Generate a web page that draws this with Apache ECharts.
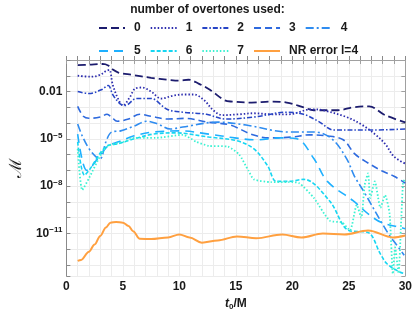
<!DOCTYPE html>
<html>
<head>
<meta charset="utf-8">
<script src="https://cdn.jsdelivr.net/npm/echarts@6/dist/echarts.min.js"></script>
<style>html,body{margin:0;padding:0;background:#fff}#c{width:415px;height:316px}</style>
</head>
<body>
<div id="c"></div>
<script>
// ---- data (t0/M, mismatch) ----
const seriesNames = ['0','1','2','3','4','5','6','7','NR error l=4'];

const t0 = [1.0, 2.0, 3.2, 3.7, 4.1, 4.6, 5.8, 7.5, 9.0, 10.0, 10.8, 11.7, 12.7, 14.0, 14.7, 16.4, 18.1, 19.5, 21.0, 21.9, 24.0, 25.4, 26.8, 28.2, 30.0];
const m0 = [0.47, 0.5, 0.56, 0.45, 0.25, 0.16, 0.115, 0.074, 0.056, 0.049, 0.056, 0.032, 0.013, 0.0028, 0.0023, 0.002, 0.0023, 0.002, 0.001, 6.5e-4, 6.5e-4, 1e-3, 1.15e-3, 3.2e-4, 1.1e-4];

const t1 = [1.0, 2.2, 3.0, 3.5, 3.8, 4.1, 4.6, 5.0, 5.6, 6.1, 6.7, 7.5, 8.4, 9.5, 10.5, 11.3, 12.2, 13.0, 13.8, 15.3, 16.6, 18.1, 19.7, 21.7, 22.7, 24.8, 26.2, 27.3, 28.2, 29.0, 30.0];
const m1 = [0.1, 0.087, 0.115, 0.2, 0.235, 0.027, 0.0032, 0.0013, 0.0042, 0.0155, 0.018, 0.01, 0.0036, 0.0056, 0.0065, 0.0065, 0.0028, 6.5e-4, 3.2e-4, 3.6e-4, 4.2e-4, 3.6e-4, 3.6e-4, 7.5e-4, 6.5e-4, 2.4e-4, 7.5e-5, 2e-5, 4.9e-6, 7.5e-7, 2.7e-7];

const t2 = [1.0, 2.0, 3.1, 3.7, 4.1, 4.7, 5.2, 6.2, 7.5, 8.9, 10.3, 12.4, 14.1, 16.6, 19.5, 21.0, 22.3, 23.7, 26.9, 30.0];
const m2 = [0.01, 0.0075, 0.013, 0.024, 0.0065, 0.0018, 0.0013, 0.0036, 0.0036, 7.5e-4, 4.9e-4, 3.6e-4, 1.8e-4, 2.4e-4, 4.9e-4, 3.6e-4, 1.3e-4, 3.6e-5, 3.6e-5, 4.2e-5];

const t3 = [1.0, 1.5, 2.0, 3.0, 3.6, 4.0, 4.5, 5.5, 6.5, 7.5, 9.0, 10.5, 12.5, 14.5, 16.5, 18.0, 20.0, 21.5, 23.0, 24.5, 25.5, 26.5, 28.0, 29.0, 30.0];
const m3 = [1.15e-3, 2.7e-4, 2e-4, 2.4e-4, 3.6e-4, 2.4e-4, 1.3e-4, 1.8e-4, 3.6e-4, 2.7e-4, 1.8e-4, 2e-4, 1.15e-4, 7.5e-5, 1.8e-5, 1.15e-5, 1.3e-5, 1.8e-5, 1.55e-5, 8.7e-6, 1.15e-6, 3.6e-7, 8.7e-8, 4.2e-8, 1.55e-8];

const t4 = [1.0, 1.4, 2.0, 2.6, 3.0, 3.5, 4.0, 4.8, 6.0, 7.1, 8.1, 9.2, 10.3, 13.4, 15.9, 19.7, 22.0, 23.5, 24.8, 25.5, 26.3, 27.8, 28.6, 29.2, 29.9];
const m4 = [8.7e-5, 1.55e-5, 2.4e-6, 7.5e-7, 5.6e-7, 6.5e-6, 2.7e-5, 3.2e-5, 6.5e-5, 1.3e-4, 8.7e-5, 4.2e-5, 5.6e-5, 1.15e-4, 7.5e-5, 2.7e-5, 2.7e-5, 1e-5, 5.6e-7, 4.2e-8, 4.9e-9, 6.5e-11, 7.5e-12, 2e-12, 4.2e-13];

const t5 = [1.0, 1.8, 2.3, 3.1, 3.7, 4.6, 6.0, 7.7, 10.0, 12.6, 14.9, 16.8, 18.9, 20.4, 21.9, 23.1, 25.4, 26.8, 27.9, 29.6, 30.0];
const m5 = [2e-5, 1e-7, 2e-7, 1.15e-6, 3.6e-6, 6.5e-6, 1.55e-5, 2.7e-5, 3.2e-5, 2e-5, 1.15e-5, 8.7e-6, 1.15e-5, 1e-5, 5.6e-7, 2e-8, 1.15e-9, 1.55e-10, 4.9e-11, 2.4e-11, 2e-11];

const t6 = [1.0, 1.6, 2.0, 3.5, 4.6, 6.0, 7.7, 9.6, 12.6, 15.1, 16.6, 17.8, 18.6, 19.7, 21.0, 23.3, 25.0, 26.7, 27.8, 28.4, 29.5, 30.0];
const m6 = [6.5e-6, 4.9e-8, 1e-7, 3.2e-6, 4.9e-6, 1e-5, 2e-5, 2.4e-5, 1.3e-5, 7.5e-6, 2.3e-6, 2e-7, 2e-8, 2e-8, 2.7e-8, 1.15e-9, 1.55e-11, 1.15e-11, 4.9e-13, 1.15e-13, 3.6e-14, 2.7e-14];

const t7 = [1.0, 1.4, 2.0, 3.1, 3.7, 5.1, 6.0, 7.9, 10.3, 11.5, 12.6, 14.3, 15.3, 16.1, 16.6, 18.1, 19.7, 20.6, 21.9, 23.3, 24.4, 25.1, 25.7, 26.1, 26.4, 26.7, 26.9, 27.3, 27.8, 28.2, 28.6, 28.9, 29.1, 29.4, 29.6, 29.8, 30.0];
const m7 = [2.3e-6, 5.6e-9, 3.2e-8, 1.15e-6, 3.6e-6, 6.5e-6, 1.15e-5, 1.15e-5, 1.8e-5, 6.5e-6, 3.6e-6, 3.2e-6, 1e-6, 1e-7, 2.7e-8, 1.8e-8, 1.8e-8, 1.55e-8, 1.8e-9, 6.5e-11, 4.9e-11, 1.55e-11, 6.5e-10, 1e-10, 1.15e-8, 6.5e-8, 1.8e-9, 2e-8, 4.2e-10, 2.7e-9, 2e-10, 2.7e-14, 1.3e-12, 3e-14, 1.8e-11, 1.55e-8, 3.2e-8];

const tNR = [1.0, 1.3, 2.0, 2.5, 3.0, 3.5, 3.9, 4.4, 5.0, 5.5, 5.9, 6.5, 7.5, 9.0, 10.0, 10.9, 12.0, 13.4, 15.1, 16.8, 19.1, 20.8, 22.7, 24.6, 26.7, 28.9, 30.0];
const mNR = [1.8e-13, 2.1e-13, 7e-13, 2e-12, 7e-12, 2.4e-11, 4.8e-11, 5.4e-11, 4.8e-11, 3e-11, 1.4e-11, 4.6e-12, 4.4e-12, 5.6e-12, 8.7e-12, 5.6e-12, 2.6e-12, 3.6e-12, 6.5e-12, 4.9e-12, 8.7e-12, 5.6e-12, 1e-11, 8.7e-12, 1.55e-11, 5.6e-12, 7.5e-12];

const xTickLabels = [0, 5, 10, 15, 20, 25, 30];
const yLabelExponents = [-2, -5, -8, -11];

// ---- styling ----
const tList = [t0, t1, t2, t3, t4, t5, t6, t7, tNR];
const mList = [m0, m1, m2, m3, m4, m5, m6, m7, mNR];
const colors = ['#1c1c6e', '#2c2cae', '#2745c6', '#2e6ade', '#2f8cf0', '#1eb0ff', '#16d6f2', '#3af2d2', '#ffa040'];
const dashes = [[8,4], [1.5,2], [5,2,1.5,2], [7,4], [8,3,2,3], [9,6], [4,2], [1.5,2], 'solid'];
const widths = [1.8, 1.8, 1.6, 1.6, 1.6, 1.6, 1.6, 1.8, 2];

const FONT = 'Liberation Sans';
const series = seriesNames.map((name, i) => ({
  name: name,
  type: 'line',
  xAxisIndex: 0,
  yAxisIndex: 0,
  symbol: 'none',
  smooth: i === 7 ? 0.2 : 0.35,
  smoothMonotone: i === 8 ? 'x' : undefined,
  z: i === 8 ? 3 : 2,
  lineStyle: { color: colors[i], width: widths[i], type: dashes[i], cap: 'butt' },
  itemStyle: { color: colors[i] },
  data: tList[i].map((t, k) => [t, mList[i][k]])
}));

const axisGray = '#8a8a8a';
const gridGray = '#ececec';
const legendCommon = {
  left: 93, itemWidth: 26, itemHeight: 12, itemGap: 9,
  itemStyle: { color: 'rgba(0,0,0,0)', borderWidth: 0, opacity: 0 },
  textStyle: { fontSize: 12, fontWeight: 'bold', color: '#1a1a1a', fontFamily: FONT, padding: [0,0,0,4] }
};

const option = {
  animation: false,
  backgroundColor: '#fff',
  textStyle: { fontFamily: FONT },
  title: {
    text: 'number of overtones used:',
    left: 'center', top: -1,
    textStyle: { fontSize: 12, fontWeight: 'bold', color: '#1a1a1a', fontFamily: FONT }
  },
  legend: [
    Object.assign({ data: seriesNames.slice(0, 5), top: 17 }, legendCommon),
    Object.assign({ data: seriesNames.slice(5), top: 40 }, legendCommon)
  ],
  grid: { left: 51, right: 9, top: 60, bottom: 37 },
  xAxis: [
    { type: 'value', min: 0, max: 30, interval: 1, position: 'bottom',
      axisLine: { lineStyle: { color: axisGray, width: 1 } },
      axisTick: { inside: true, length: 4, lineStyle: { color: axisGray } },
      axisLabel: { margin: 5, fontSize: 12, fontWeight: 'bold', color: '#1a1a1a', fontFamily: FONT,
        formatter: v => xTickLabels.indexOf(v) >= 0 ? String(v) : '' },
      splitLine: { show: true, lineStyle: { color: gridGray, width: 1 } },
      name: '{i|t}{s|0}{n|/M}', nameLocation: 'middle', nameGap: 21,
      nameTextStyle: { rich: {
        i: { fontSize: 12, fontWeight: 'bold', fontStyle: 'italic', color: '#1a1a1a', fontFamily: FONT },
        s: { fontSize: 8, fontWeight: 'bold', color: '#1a1a1a', fontFamily: FONT, padding: [6,0,0,0] },
        n: { fontSize: 12, fontWeight: 'bold', color: '#1a1a1a', fontFamily: FONT } } } },
    { type: 'value', min: 0, max: 30, interval: 1, position: 'top',
      axisLine: { lineStyle: { color: '#a0a0a0', width: 1 } },
      axisTick: { inside: true, length: 4, lineStyle: { color: '#a0a0a0' } },
      axisLabel: { show: false }, splitLine: { show: false } }
  ],
  yAxis: [
    { type: 'log', logBase: 10, min: 2e-14, max: 1, show: false, position: 'left' },
    { type: 'value', min: -13.7, max: 0, splitNumber: 14, position: 'left',
      axisLine: { show: true, lineStyle: { color: axisGray, width: 1 } },
      axisTick: { inside: true, length: 4, lineStyle: { color: axisGray } },
      splitLine: { show: true, lineStyle: { color: gridGray, width: 1 } },
      axisLabel: { margin: 4, color: '#1a1a1a',
        formatter: v => {
          const e = Math.round(v);
          if (Math.abs(v - e) > 1e-6 || yLabelExponents.indexOf(e) < 0) return '';
          if (e === -2) return '{b|0.01}';
          return '{b|10}{s|\u2212' + (-e) + '}';
        },
        rich: {
          b: { fontSize: 12, fontWeight: 'bold', color: '#1a1a1a', fontFamily: FONT },
          s: { fontSize: 8, fontWeight: 'bold', color: '#1a1a1a', fontFamily: FONT, padding: [0,0,7,0] }
        } },
      name: '\u2133', nameLocation: 'middle', nameGap: 38, nameRotate: 90,
      nameTextStyle: { fontSize: 17, color: '#1a1a1a', fontFamily: 'DejaVu Serif' } },
    { type: 'value', min: -13.7, max: 0, splitNumber: 14, position: 'right',
      axisLine: { show: true, lineStyle: { color: '#a0a0a0', width: 1 } },
      axisTick: { inside: true, length: 4, lineStyle: { color: '#a0a0a0' } },
      axisLabel: { show: false }, splitLine: { show: false } }
  ],
  series: series
};

const chart = echarts.init(document.getElementById('c'), null, { renderer: 'canvas' });
chart.setOption(option);
</script>
</body>
</html>
